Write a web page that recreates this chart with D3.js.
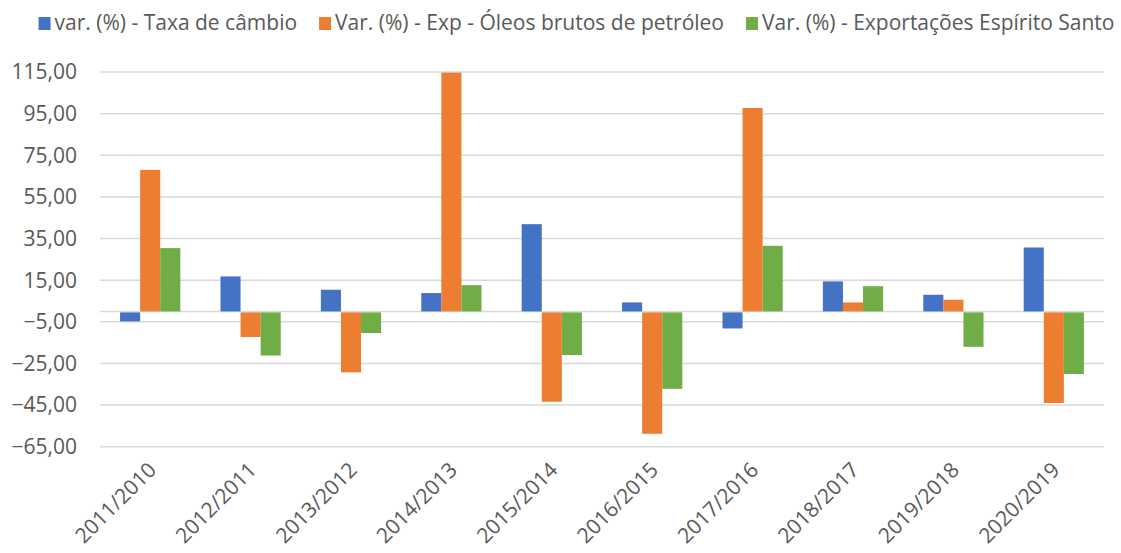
<!DOCTYPE html>
<html>
<head>
<meta charset="utf-8">
<script src="https://cdn.jsdelivr.net/npm/d3@7"></script>
<style>
  body { margin: 0; background: #fff; }
  text { font-family: "Open Sans", sans-serif; fill: #595959; }
</style>
</head>
<body>
<div id="chart"></div>
<script>
const categories = ["2011/2010", "2012/2011", "2013/2012", "2014/2013", "2015/2014",
  "2016/2015", "2017/2016", "2018/2017", "2019/2018", "2020/2019"];
const seriesNames = ["var. (%) - Taxa de câmbio", "Var. (%) - Exp - Óleos brutos de petróleo",
  "Var. (%) - Exportações Espírito Santo"];
const taxaCambio = [-4.8, 16.8, 10.4, 8.8, 41.9, 4.3, -8.2, 14.4, 8.0, 30.7];
const oleosBrutos = [68.0, -12.3, -29.3, 114.7, -43.4, -58.8, 97.7, 4.3, 5.6, -44.0];
const exportacoesES = [30.4, -21.2, -10.4, 12.6, -21.0, -37.2, 31.5, 12.1, -17.0, -30.1];
const yTicks = [-65, -45, -25, -5, 15, 35, 55, 75, 95, 115];
const colors = ["#4472C4", "#ED7D31", "#70AD47"];

const width = 1121, height = 553;
const plot = { left: 100, right: 1104, top: 72, bottom: 446.7 };

const svg = d3.select("#chart").append("svg")
  .attr("width", width).attr("height", height);

const x0 = d3.scaleBand().domain(categories)
  .range([plot.left, plot.right]).paddingInner(0.4).paddingOuter(0.2);
const x1 = d3.scaleBand().domain(d3.range(3)).range([0, x0.bandwidth()]);
const y = d3.scaleLinear().domain([-65, 115]).range([plot.bottom, plot.top]);

// gridlines
svg.append("g")
  .selectAll("line")
  .data(yTicks.concat([0]))
  .join("line")
  .attr("x1", plot.left).attr("x2", plot.right)
  .attr("y1", d => y(d)).attr("y2", d => y(d))
  .attr("stroke", "#D9D9D9").attr("stroke-width", 1.5);

// y labels
svg.append("g")
  .selectAll("text")
  .data(yTicks)
  .join("text")
  .attr("x", 77).attr("y", d => y(d)).attr("dy", "0.35em")
  .attr("text-anchor", "end").style("font-size", "21px")
  .text(d => d3.format(".2f")(d).replace(".", ","));

// bars
const seriesData = [taxaCambio, oleosBrutos, exportacoesES];
svg.append("g")
  .selectAll("g")
  .data(categories)
  .join("g")
  .attr("transform", d => `translate(${x0(d)},0)`)
  .selectAll("rect")
  .data((c, i) => seriesData.map((s, k) => ({ k, v: s[i] })))
  .join("rect")
  .attr("x", d => x1(d.k))
  .attr("width", x1.bandwidth())
  .attr("y", d => d.v >= 0 ? y(d.v) : y(0) + 1)
  .attr("height", d => d.v >= 0 ? y(0) - y(d.v) : y(d.v) - y(0) - 1)
  .attr("fill", d => colors[d.k]);

// x labels
svg.append("g")
  .selectAll("text")
  .data(categories)
  .join("text")
  .attr("transform", d => `translate(${x0(d) + x0.bandwidth() / 2 + 2},466) rotate(-45)`)
  .attr("dy", "0.35em")
  .attr("text-anchor", "end").style("font-size", "21px")
  .text(d => d);

// legend
const legend = svg.append("g");
const items = legend.selectAll("g").data(seriesNames).join("g");
items.append("rect").attr("width", 12).attr("height", 13).attr("y", 17)
  .attr("fill", (d, i) => colors[i]);
items.append("text").attr("x", 16).attr("y", 30).style("font-size", "21px").text(d => d);
let cx = 0;
const offsets = [];
items.each(function () {
  offsets.push(cx);
  cx += 16 + d3.select(this).select("text").node().getComputedTextLength() + 22;
});
const total = cx - 22;
const startX = (width - total) / 2 + 16;
items.attr("transform", (d, i) => `translate(${startX + offsets[i]},0)`);
</script>
</body>
</html>
